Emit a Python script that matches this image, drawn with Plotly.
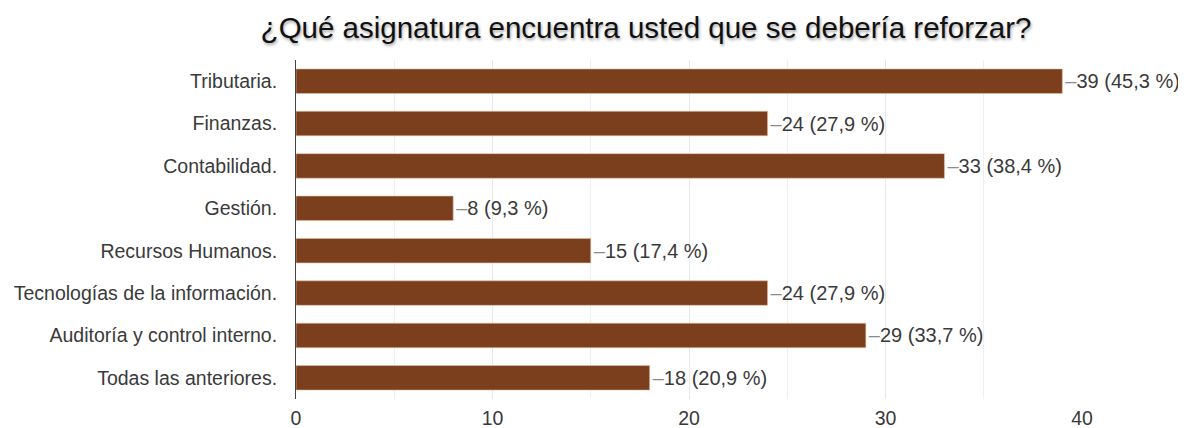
import plotly.graph_objects as go

categories = [
    "Tributaria.",
    "Finanzas.",
    "Contabilidad.",
    "Gestión.",
    "Recursos Humanos.",
    "Tecnologías de la información.",
    "Auditoría y control interno.",
    "Todas las anteriores.",
]
counts = [39, 24, 33, 8, 15, 24, 29, 18]
percents = ["45,3", "27,9", "38,4", "9,3", "17,4", "27,9", "33,7", "20,9"]

labels = [
    f"<span style='color:#8a8a8a'>–</span>{c} ({p} %)" for c, p in zip(counts, percents)
]

fig = go.Figure(
    go.Bar(
        x=counts,
        y=categories,
        orientation="h",
        marker=dict(color="#7b3f1e", line=dict(color="#e2c4a2", width=0.6)),
        text=labels,
        textposition="outside",
        constraintext="none",
        cliponaxis=False,
        textfont=dict(family="Liberation Sans", size=20, color="#3a3a3a"),
        width=0.58,
        hoverinfo="skip",
    )
)

# the page body adds an 8px offset, so the figure is sized to the visible area
fig.update_layout(
    width=1178,
    height=420,
    margin=dict(l=288, r=104, t=52, b=29),
    paper_bgcolor="white",
    plot_bgcolor="white",
    showlegend=False,
    font=dict(family="Liberation Sans", size=19.5, color="#3a3a3a"),
    title=dict(
        text="¿Qué asignatura encuentra usted que se debería reforzar?",
        x=0.5416,
        xanchor="center",
        y=0.952,
        yanchor="middle",
        font=dict(family="Liberation Sans", size=29.5, color="#111111",
                  shadow="1px 2px 3px rgba(0,0,0,0.35)"),
    ),
    xaxis=dict(
        range=[0, 40],
        dtick=10,
        tick0=0,
        showgrid=True,
        gridcolor="#e8e8e8",
        gridwidth=1,
        minor=dict(dtick=5, showgrid=True, gridcolor="#efefef"),
        zeroline=False,
        showline=False,
        ticks="",
        automargin=False,
        ticklabelstandoff=5,
        tickfont=dict(size=19.5, color="#3a3a3a"),
    ),
    yaxis=dict(
        autorange="reversed",
        showline=True,
        linecolor="#444444",
        linewidth=1,
        showgrid=False,
        ticks="",
        automargin=False,
        ticklabelstandoff=14,
        tickfont=dict(size=19.5, color="#3a3a3a"),
    ),
)

fig.write_html("out.html")
